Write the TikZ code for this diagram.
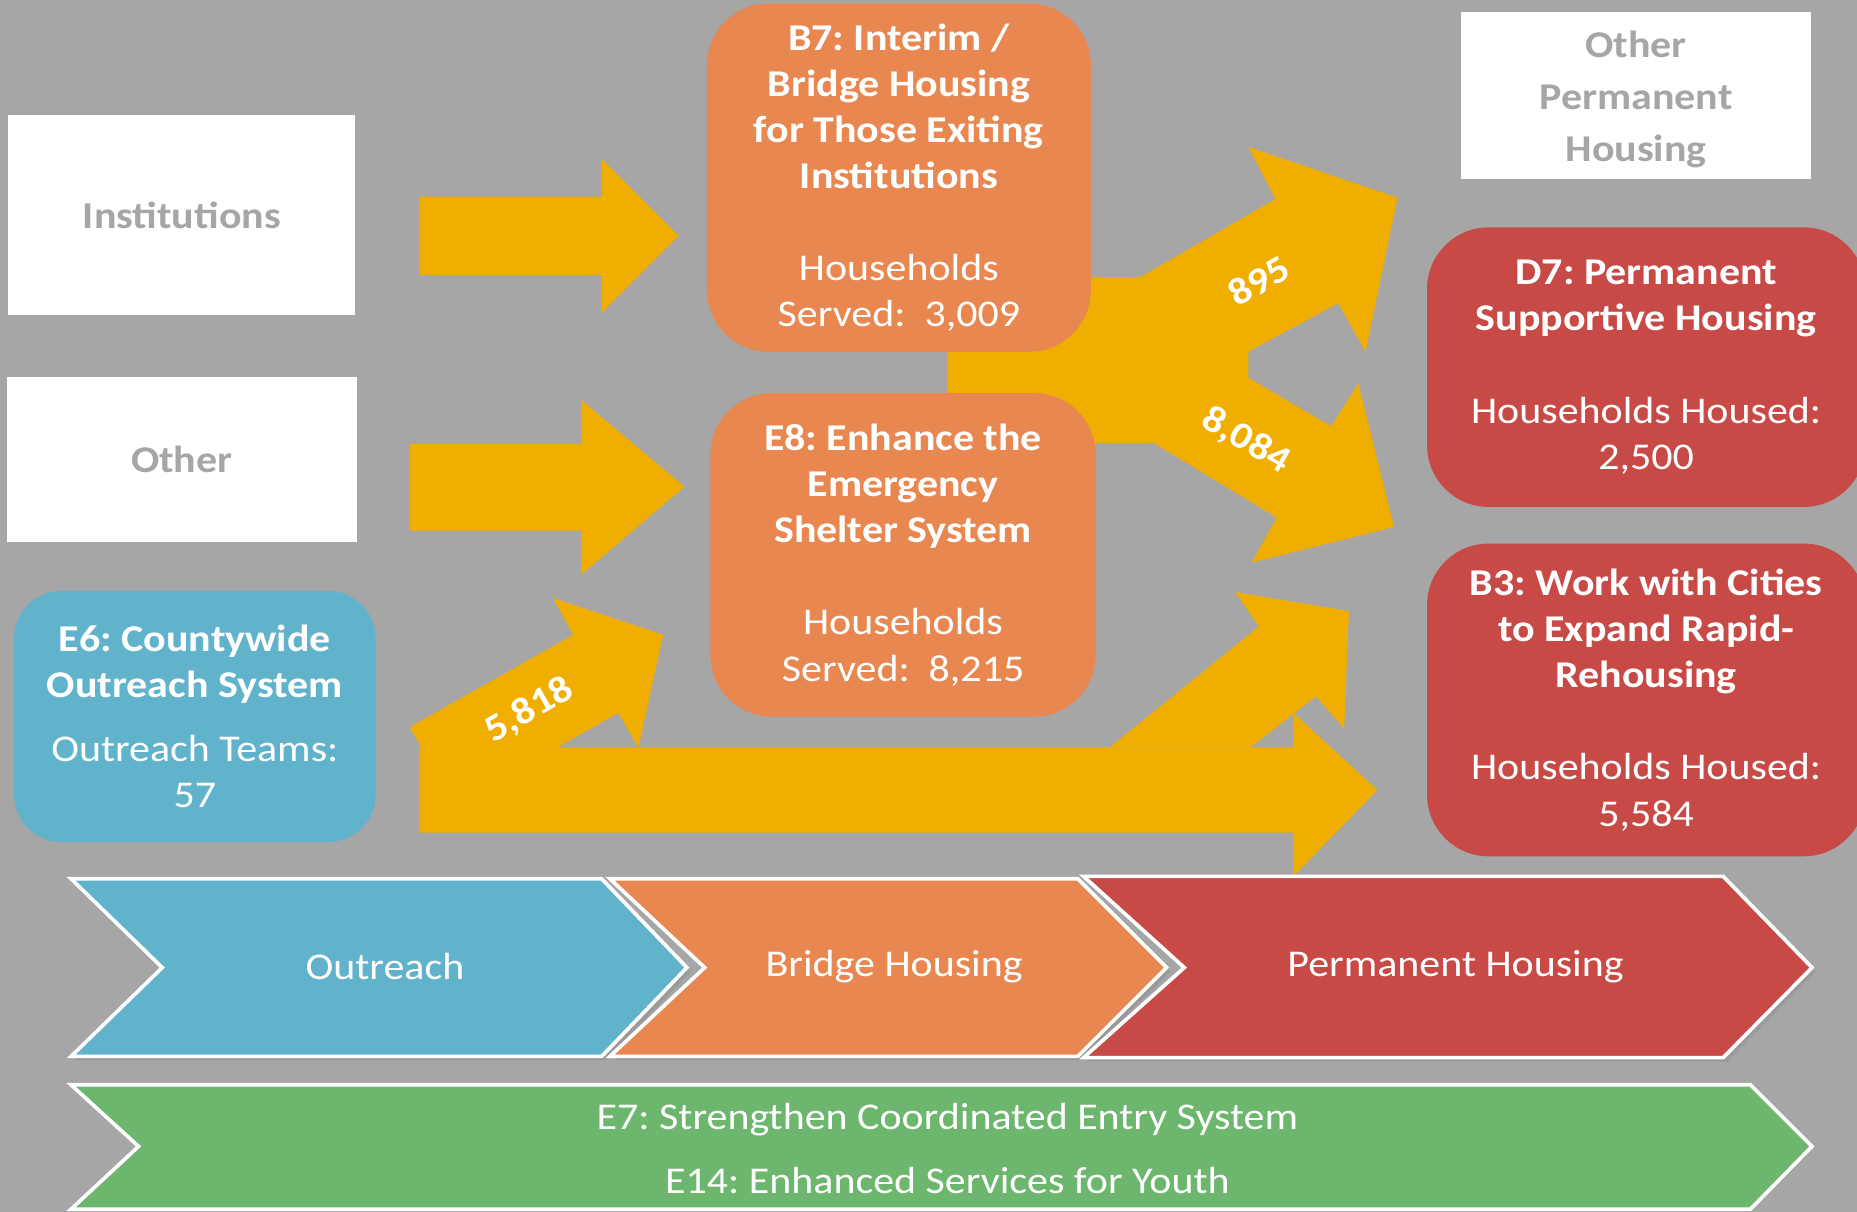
\documentclass[tikz,border=0pt]{standalone}
\usepackage{fontspec}
\setmainfont[FakeStretch=1.11]{Carlito}
\usepackage{tikz}
\usetikzlibrary{shadows}
\frenchspacing

\definecolor{bg}{HTML}{A6A6A6}
\definecolor{flow}{HTML}{F0AE00}
\definecolor{outblue}{HTML}{61B3CC}
\definecolor{bridgeorange}{HTML}{E88750}
\definecolor{permred}{HTML}{C74A47}
\definecolor{entrygreen}{HTML}{6DB66D}

\begin{document}
\begin{tikzpicture}[x=0.025cm,y=-0.025cm,
every node/.style={font=\fontsize{22.7}{27.7}\selectfont, align=center, text=white, inner sep=0pt},
srcbox/.style={fill=white, text=bg, font=\fontsize{22.7}{27.7}\selectfont\bfseries},
progbox/.style={rounded corners=1.3cm},
chev/.style={draw=white, line width=2.2pt, line join=miter},
flowlbl/.style={font=\fontsize{22.7}{27.7}\selectfont\bfseries}
]
\useasboundingbox (0,0) rectangle (1568,1023);
\clip (0,0) rectangle (1568,1023);
\fill[bg] (0,0) rectangle (1568,1023);

% The flows
\fill[flow] (354,166) -- (508,166) -- (508,134) -- (573,199) -- (508,264) -- (508,232) -- (354,232) -- cycle;
\fill[flow] (346,375) -- (491,375) -- (491,338) -- (578,411) -- (491,485) -- (491,448) -- (346,448) -- cycle;
\fill[flow] (354,631) -- (1092,631) -- (1092,602) -- (1163,667) -- (1092,740) -- (1092,703) -- (354,703) -- cycle;
\fill[flow] (384,680) -- (346,614) -- (484,536) -- (467,505) -- (560,536) -- (539,631) -- (522,602) -- cycle;
\fill[flow] (937,631) -- (1063,529) -- (1043,500) -- (1139,516) -- (1135,615) -- (1111,588) -- (1056,631) -- cycle;
\fill[flow] (800,234) -- (963,234) -- (1077,168) -- (1054,124) -- (1180,167) -- (1153,297) -- (1130,256)
  -- (1054,297) -- (1054,319) -- (1124,360) -- (1147,324) -- (1177,445) -- (1057,475) -- (1078,437)
  -- (974,374) -- (800,374) -- cycle;

% The sources
\node[srcbox, minimum width=7.33cm, minimum height=4.23cm] (inst) at (153.5,181.5) {Institutions};
\node[srcbox, minimum width=7.38cm, minimum height=3.5cm] (other) at (153.5,388) {Other};
\node[srcbox, minimum width=7.38cm, minimum height=3.53cm] (oph) at (1381.5,80.5) {};
\node[font=\fontsize{22.7}{31}\selectfont\bfseries, text=bg] (ophtext) at (1381.5,84) {Other\\Permanent\\Housing};

% The programs
\node[progbox, fill=outblue, minimum width=7.63cm, minimum height=5.3cm, rounded corners=1cm] (e6) at (164.5,605)
  {\textbf{E6: Countywide}\\\textbf{Outreach System}\\[10.7pt]Outreach Teams:\\57};
\node[progbox, fill=bridgeorange, minimum width=8.1cm, minimum height=7.35cm] (b7) at (759,150)
  {\textbf{B7: Interim /}\\\textbf{Bridge Housing}\\\textbf{for Those Exiting}\\\textbf{Institutions}\\[27.7pt]Households\\Served:\ \ 3,009};
\node[progbox, fill=bridgeorange, minimum width=8.13cm, minimum height=6.83cm] (e8) at (762.5,468.5)
  {\textbf{E8: Enhance the}\\\textbf{Emergency}\\\textbf{Shelter System}\\[27.7pt]Households\\Served:\ \ 8,215};
\node[progbox, fill=permred, minimum width=9.25cm, minimum height=5.9cm] (d7) at (1390,310)
  {\textbf{D7: Permanent}\\\textbf{Supportive Housing}\\[27.7pt]Households Housed:\\2,500};
\node[progbox, fill=permred, minimum width=9.25cm, minimum height=6.6cm] (b3) at (1390,591)
  {\textbf{B3: Work with Cities}\\\textbf{to Expand Rapid-}\\\textbf{Rehousing}\\[27.7pt]Households Housed:\\5,584};

% The flow labels
\node[flowlbl, rotate=30] (n895) at (1063,237) {895};
\node[flowlbl, rotate=-30] (n8084) at (1052,372) {8,084};
\node[flowlbl, rotate=30] (n5818) at (447,600) {5,818};

% The stages
\draw[chev, fill=outblue, drop shadow={opacity=0.3}] (60,742) -- (508,742) -- (580,817) -- (508,892) -- (60,892) -- (137,817) -- cycle;
\draw[chev, fill=bridgeorange, drop shadow={opacity=0.3}] (515,742) -- (910,742) -- (985,817) -- (910,892) -- (515,892) -- (595,817) -- cycle;
\draw[chev, fill=permred, drop shadow={opacity=0.3}] (915,740) -- (1455,740) -- (1530,817) -- (1455,893) -- (915,893) -- (1000,817) -- cycle;
\draw[chev, fill=entrygreen] (60,916) -- (1478,916) -- (1530,968) -- (1478,1021) -- (60,1021) -- (117,968) -- cycle;

\node (outreach) at (325,816) {Outreach};
\node (bridge) at (755,816) {Bridge Housing};
\node (perm) at (1229,816) {Permanent Housing};
\node (entry) at (800,970) {E7: Strengthen Coordinated Entry System\\[10.7pt]E14: Enhanced Services for Youth};
\end{tikzpicture}
\end{document}
